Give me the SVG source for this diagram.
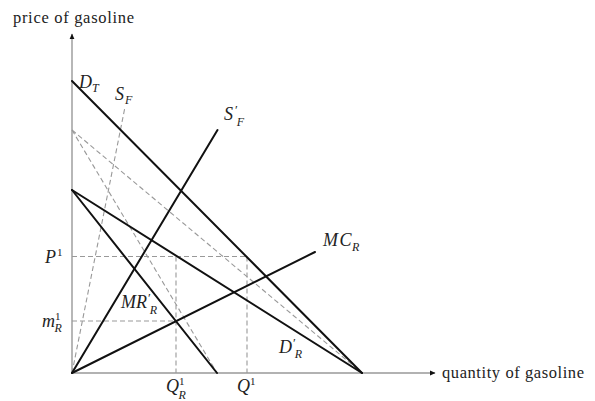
<svg xmlns="http://www.w3.org/2000/svg" width="595" height="401" viewBox="0 0 595 401">
<style>
.ax{stroke:#999;stroke-width:1.4;fill:none}
.s{stroke:#111;stroke-width:2;fill:none;stroke-linecap:round}
.d{stroke:#999;stroke-width:1.1;fill:none;stroke-dasharray:5 3}
.t{font-family:"Liberation Serif",serif;font-size:16.5px;fill:#222}
.m{font-family:"Liberation Serif",serif;font-style:italic;font-size:18px;fill:#222}
.sb{font-size:12px}
.sp{font-size:11px;font-style:normal}
.pr{font-size:13px;font-style:normal}
</style>
<defs>
<marker id="ah" markerWidth="6" markerHeight="6" refX="5" refY="3" orient="auto" markerUnits="userSpaceOnUse">
<path d="M0,0.6 L5.5,3 L0,5.4 Z" fill="#111"/>
</marker>
</defs>
<rect width="595" height="401" fill="#fff"/>
<g id="axes">
<line class="ax" x1="72" y1="373" x2="72" y2="34" marker-end="url(#ah)"/>
<line class="ax" x1="72" y1="373" x2="435" y2="373" marker-end="url(#ah)"/>
<text class="t" x="13" y="23" textLength="121">price of gasoline</text>
<text class="t" x="442" y="378" textLength="142">quantity of gasoline</text>
</g>
<g id="connectors">
<line class="d" x1="72" y1="256.5" x2="247" y2="256.5"/>
<line class="d" x1="72" y1="321" x2="176" y2="321"/>
<line class="d" x1="176" y1="256.5" x2="176" y2="373"/>
<line class="d" x1="247" y1="256.5" x2="247" y2="373"/>
<line class="d" x1="72" y1="373" x2="125" y2="107"/>
<line class="d" x1="72" y1="130" x2="362" y2="373"/>
<line class="d" x1="72" y1="130" x2="217" y2="373"/>
<line class="s" x1="72" y1="81" x2="362" y2="373"/>
<line class="s" x1="72" y1="373" x2="217.5" y2="130"/>
<line class="s" x1="72" y1="190" x2="362" y2="373"/>
<line class="s" x1="72" y1="190" x2="217" y2="373"/>
<line class="s" x1="72" y1="373" x2="315" y2="252"/>
</g>
<g id="DT"><text class="m" x="79" y="88">D<tspan class="sb" dy="4">T</tspan></text></g>
<g id="SF"><text class="m" x="115" y="100">S<tspan class="sb" dx="1" dy="4">F</tspan></text></g>
<g id="SpF"><text class="m" x="224" y="120">S<tspan class="pr" dx="2" dy="-6">′</tspan><tspan class="sb" dx="-1" dy="12">F</tspan></text></g>
<g id="MCR"><text class="m" x="323" y="246" letter-spacing="1.5">MC<tspan class="sb" letter-spacing="0" dx="-1" dy="5">R</tspan></text></g>
<g id="MRpR"><text class="m" x="121" y="308">MR<tspan class="pr" dx="1" dy="-6">′</tspan><tspan class="sb" dx="-1" dy="12">R</tspan></text></g>
<g id="DpR"><text class="m" x="279" y="353">D<tspan class="pr" dx="1" dy="-6">′</tspan><tspan class="sb" dx="-1" dy="11">R</tspan></text></g>
<g id="P1"><text class="m" x="45" y="263">P<tspan class="sp" dx="1" dy="-7">1</tspan></text></g>
<g id="mR1"><text class="m" x="42" y="327">m<tspan class="sp" dy="-7">1</tspan><tspan class="sb" dx="-6" dy="12">R</tspan></text></g>
<g id="QR1"><text class="m" x="166" y="392">Q<tspan class="sp" dy="-7">1</tspan><tspan class="sb" dx="-6" dy="14">R</tspan></text></g>
<g id="Q1"><text class="m" x="237" y="392">Q<tspan class="sp" dy="-7">1</tspan></text></g>
</svg>
